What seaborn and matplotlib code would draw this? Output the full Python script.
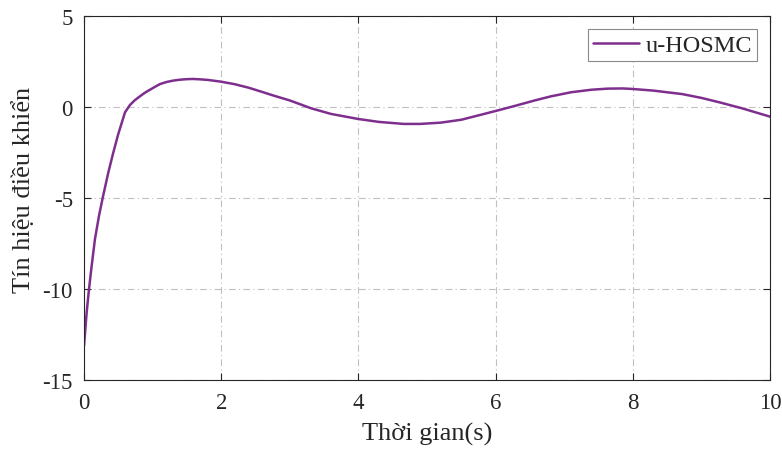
import numpy as np
import pandas as pd
import matplotlib
matplotlib.use("Agg")
import matplotlib.pyplot as plt
import seaborn as sns

# Data
t = [0.0, 0.039, 0.073, 0.112, 0.16, 0.219, 0.272, 0.355, 0.428, 0.5, 0.598,
     0.67, 0.74, 0.816, 0.89, 0.962, 1.04, 1.108, 1.2, 1.3, 1.4, 1.5, 1.59, 1.69,
     1.8, 1.9, 2.0, 2.2, 2.4, 2.57, 2.77, 3.0, 3.31, 3.6, 4.0, 4.3, 4.66, 4.9, 5.2,
     5.5, 6.0, 6.3, 6.56, 6.8, 7.1, 7.4, 7.64, 7.85, 8.0, 8.3, 8.72, 9.0, 9.26,
     9.6, 10.0]
u = [-13.12, -11.28, -10.0, -8.72, -7.25, -5.97, -5.0, -3.59, -2.49, -1.48, -0.29,
     0.11, 0.37, 0.59, 0.79, 0.95, 1.12, 1.26, 1.37, 1.45, 1.50, 1.53, 1.54, 1.52,
     1.49, 1.44, 1.39, 1.25, 1.06, 0.86, 0.62, 0.36, -0.07, -0.38, -0.66, -0.82, -0.93,
     -0.93, -0.86, -0.70, -0.22, 0.08, 0.35, 0.58, 0.81, 0.95, 1.01, 1.02, 0.99, 0.90,
     0.71, 0.50, 0.26, -0.08, -0.53]
series_name = "u-HOSMC"
x_ticks = [0, 2, 4, 6, 8, 10]
y_ticks = [-15, -10, -5, 0, 5]
x_label = "Thời gian(s)"
y_label = "Tín hiệu điều khiển"

df = pd.DataFrame({"t": t, "u": u, "name": series_name})

sns.set_theme(style="white")
plt.rcParams["font.family"] = ["Liberation Serif", "DejaVu Serif"]

fig = plt.figure(figsize=(7.82, 4.52), dpi=100)
ax = fig.add_axes([84 / 782, (452 - 381) / 452, (770 - 84) / 782, (381 - 17) / 452])

sns.lineplot(data=df, x="t", y="u", hue="name", palette=["#7E2F8E"],
             linewidth=1.8, ax=ax, sort=False)

ax.set_xlim(0, 10)
ax.set_ylim(-15, 5)
ax.set_xticks(x_ticks)
ax.set_yticks(y_ticks)
ax.set_xticklabels([str(v) for v in x_ticks])
ax.set_yticklabels([str(v) for v in y_ticks])
ax.grid(True, linestyle=(0, (6, 3, 1, 3)), color="#c0c0c0", linewidth=0.8)
ax.set_axisbelow(True)
for s in ax.spines.values():
    s.set_visible(True)
    s.set_color("#262626")
    s.set_linewidth(0.8)
ax.tick_params(direction="in", length=5, width=0.8, colors="#262626",
               labelsize=16.5, top=True, right=True, labelcolor="#262626",
               bottom=True, left=True)
ax.tick_params(axis="x", pad=9)
ax.tick_params(axis="y", pad=8)
ax.set_xlabel(x_label, fontsize=19, color="#262626")
ax.xaxis.set_label_coords(0.5, -0.115, transform=ax.transAxes)
ax.xaxis.label.set_va("top")
ax.set_ylabel(y_label, fontsize=19, color="#262626")
ax.yaxis.set_label_coords(-0.072, 0.525)

leg = ax.legend(loc="upper right", fontsize=17.5, frameon=True, fancybox=False,
                edgecolor="#8a8a8a", framealpha=1, handlelength=1.9,
                borderpad=0.2, handletextpad=0.25, borderaxespad=0.55)
leg.get_frame().set_linewidth(0.8)

fig.savefig("out.png", dpi=100)
